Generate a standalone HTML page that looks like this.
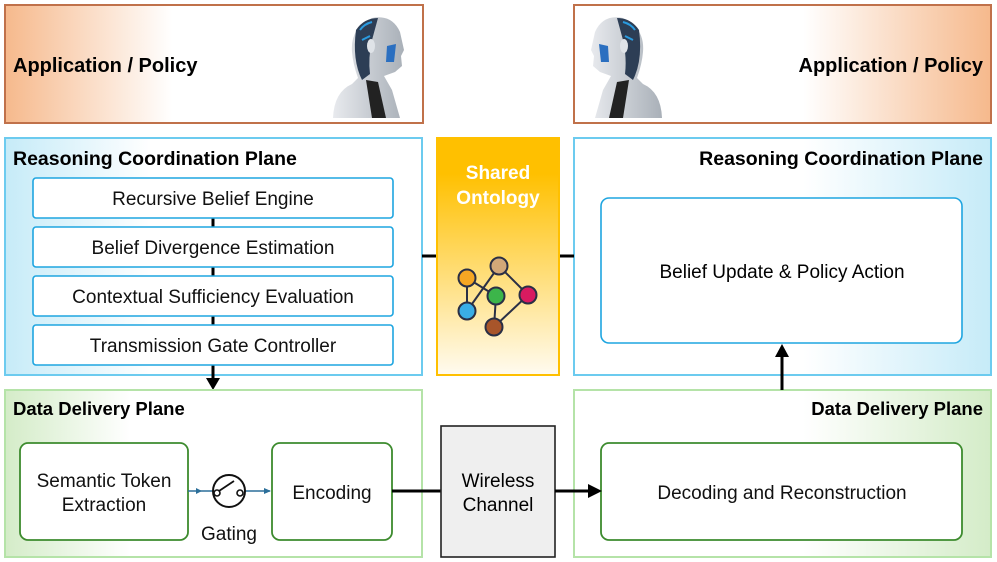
<!DOCTYPE html>
<html><head><meta charset="utf-8"><style>
html,body{margin:0;padding:0;background:#fff;}
svg{display:block;font-family:"Liberation Sans","DejaVu Sans",sans-serif;}
</style></head><body>
<svg width="997" height="562" viewBox="0 0 997 562" xmlns="http://www.w3.org/2000/svg">
<defs>
<linearGradient id="orL" x1="0" x2="1" y1="0" y2="0"><stop offset="0" stop-color="#f6b98c"/><stop offset="0.4" stop-color="#fff" /><stop offset="1" stop-color="#fff"/></linearGradient>
<linearGradient id="orR" x1="1" x2="0" y1="0" y2="0"><stop offset="0" stop-color="#f6b98c"/><stop offset="0.45" stop-color="#fff" /><stop offset="1" stop-color="#fff"/></linearGradient>
<linearGradient id="blL" x1="0" x2="1"><stop offset="0" stop-color="#c6ebf8"/><stop offset="0.35" stop-color="#fff"/><stop offset="1" stop-color="#fff"/></linearGradient>
<linearGradient id="blR" x1="1" x2="0"><stop offset="0" stop-color="#c6ebf8"/><stop offset="0.45" stop-color="#fff"/><stop offset="1" stop-color="#fff"/></linearGradient>
<linearGradient id="grL" x1="0" x2="1"><stop offset="0" stop-color="#d4ecc8"/><stop offset="0.3" stop-color="#fff"/><stop offset="1" stop-color="#fff"/></linearGradient>
<linearGradient id="grR" x1="1" x2="0"><stop offset="0" stop-color="#d4ecc8"/><stop offset="0.45" stop-color="#fff"/><stop offset="1" stop-color="#fff"/></linearGradient>
<linearGradient id="yel" x1="0" x2="0" y1="0" y2="1"><stop offset="0" stop-color="#ffc000"/><stop offset="0.15" stop-color="#ffc000"/><stop offset="1" stop-color="#fffbf0"/></linearGradient>
<linearGradient id="robo" x1="0" x2="1"><stop offset="0" stop-color="#e8eaee"/><stop offset="1" stop-color="#a9b0b8"/></linearGradient>
</defs>

<rect x="5" y="5" width="418" height="118" fill="url(#orL)" stroke="#c0714a" stroke-width="2"/>
<text x="13" y="72" font-size="20" font-weight="bold" fill="#000">Application / Policy</text>
<rect x="574" y="5" width="417" height="118" fill="url(#orR)" stroke="#c0714a" stroke-width="2"/>
<text x="983" y="72" font-size="20" font-weight="bold" text-anchor="end" fill="#000">Application / Policy</text>

<g>
<path d="M333 118 Q334 92 352 84 L358 78 Q353 64 352 52 Q350 28 372 18 Q392 14 400 32 L404 50 L401 56 L402 66 L395 72 L384 76 L392 90 L400 118 Z" fill="url(#robo)"/>
<path d="M356 30 Q364 18 378 18 L372 40 Q368 58 370 74 L362 80 Q352 60 356 30 Z" fill="#2d3e55"/>
<path d="M360 30 Q364 24 372 22 M362 40 L370 36" stroke="#2a9be0" stroke-width="2" fill="none"/>
<ellipse cx="371" cy="46" rx="4" ry="7" fill="#dfe3e8"/>
<path d="M387 46 L396 44 L394 62 L386 62 Z" fill="#2b6fc0"/>
<path d="M366 80 L372 118 L386 118 L378 82 Z" fill="#222"/>
</g>
<g>
<path d="M662 118 Q661 92 643 84 L637 78 Q642 64 643 52 Q645 28 623 18 Q603 14 595 32 L591 50 L594 56 L593 66 L600 72 L611 76 L603 90 L595 118 Z" fill="url(#robo)"/>
<path d="M639 30 Q631 18 617 18 L623 40 Q627 58 625 74 L633 80 Q643 60 639 30 Z" fill="#2d3e55"/>
<path d="M635 30 Q631 24 623 22 M633 40 L625 36" stroke="#2a9be0" stroke-width="2" fill="none"/>
<ellipse cx="624" cy="46" rx="4" ry="7" fill="#dfe3e8"/>
<path d="M608 46 L599 44 L601 62 L609 62 Z" fill="#2b6fc0"/>
<path d="M629 80 L623 118 L609 118 L617 82 Z" fill="#222"/>
</g>

<rect x="5" y="138" width="417" height="237" fill="url(#blL)" stroke="#6ccbef" stroke-width="2"/>
<text x="13" y="165" font-size="19.5" font-weight="bold">Reasoning Coordination Plane</text>
<rect x="574" y="138" width="417" height="237" fill="url(#blR)" stroke="#6ccbef" stroke-width="2"/>
<text x="983" y="165" font-size="19.5" font-weight="bold" text-anchor="end">Reasoning Coordination Plane</text>

<line x1="213" y1="218" x2="213" y2="378" stroke="#000" stroke-width="3"/>
<polygon points="206,378 220,378 213,390" fill="#000"/>

<g fill="#fff" stroke="#1ea5e0" stroke-width="1.6">
<rect x="33" y="178" width="360" height="40" rx="3"/>
<rect x="33" y="227" width="360" height="40" rx="3"/>
<rect x="33" y="276" width="360" height="40" rx="3"/>
<rect x="33" y="325" width="360" height="40" rx="3"/>
</g>
<g font-size="19" text-anchor="middle" fill="#111">
<text x="213" y="205">Recursive Belief Engine</text>
<text x="213" y="254">Belief  Divergence Estimation</text>
<text x="213" y="303">Contextual Sufficiency Evaluation</text>
<text x="213" y="352">Transmission Gate Controller</text>
</g>

<rect x="601" y="198" width="361" height="145" rx="8" fill="#fff" stroke="#1ea5e0" stroke-width="1.6"/>
<text x="782" y="278" font-size="19" text-anchor="middle">Belief Update &amp; Policy Action</text>

<line x1="422" y1="256" x2="437" y2="256" stroke="#000" stroke-width="3"/>
<line x1="559" y1="256" x2="574" y2="256" stroke="#000" stroke-width="3"/>
<rect x="437" y="138" width="122" height="237" fill="url(#yel)" stroke="#ffc000" stroke-width="2"/>
<text x="498" y="179" font-size="19" font-weight="bold" fill="#fff" text-anchor="middle">Shared</text>
<text x="498" y="204" font-size="19" font-weight="bold" fill="#fff" text-anchor="middle">Ontology</text>
<g stroke="#2a2f45" stroke-width="2">
<line x1="467" y1="278" x2="496" y2="296"/>
<line x1="467" y1="278" x2="467" y2="311"/>
<line x1="499" y1="266" x2="467" y2="311"/>
<line x1="499" y1="266" x2="528" y2="295"/>
<line x1="496" y1="296" x2="494" y2="327"/>
<line x1="528" y1="295" x2="494" y2="327"/>
<circle cx="467" cy="278" r="8.5" fill="#f5a623"/>
<circle cx="499" cy="266" r="8.5" fill="#d2a878"/>
<circle cx="496" cy="296" r="8.5" fill="#3cb54a"/>
<circle cx="528" cy="295" r="8.5" fill="#d81b60"/>
<circle cx="467" cy="311" r="8.5" fill="#3aaee6"/>
<circle cx="494" cy="327" r="8.5" fill="#a8552a"/>
</g>

<rect x="5" y="390" width="417" height="167" fill="url(#grL)" stroke="#b5e3a8" stroke-width="2"/>
<text x="13" y="415" font-size="18.5" font-weight="bold">Data Delivery Plane</text>
<rect x="574" y="390" width="417" height="167" fill="url(#grR)" stroke="#b5e3a8" stroke-width="2"/>
<text x="983" y="415" font-size="18.5" font-weight="bold" text-anchor="end">Data Delivery Plane</text>

<line x1="782" y1="390" x2="782" y2="355" stroke="#000" stroke-width="3"/>
<polygon points="775,357 789,357 782,344" fill="#000"/>

<g fill="#fff" stroke="#3d8b2e" stroke-width="1.8">
<rect x="20" y="443" width="168" height="97" rx="8"/>
<rect x="272" y="443" width="120" height="97" rx="8"/>
<rect x="601" y="443" width="361" height="97" rx="8"/>
</g>
<g font-size="19" text-anchor="middle" fill="#111">
<text x="104" y="487">Semantic Token</text>
<text x="104" y="511">Extraction</text>
<text x="332" y="499">Encoding</text>
<text x="782" y="499">Decoding and Reconstruction</text>
<text x="229" y="540">Gating</text>
</g>

<line x1="188" y1="491" x2="213" y2="491" stroke="#2c6f9a" stroke-width="1.5"/>
<line x1="245" y1="491" x2="270" y2="491" stroke="#2c6f9a" stroke-width="1.5"/>
<polygon points="196,488 202,491 196,494" fill="#2c6f9a"/>
<polygon points="264,488 271,491 264,494" fill="#2c6f9a"/>
<circle cx="229" cy="491" r="16" fill="#fff" stroke="#111" stroke-width="2"/>
<circle cx="217" cy="493" r="3" fill="#fff" stroke="#111" stroke-width="1.6"/>
<circle cx="240" cy="493" r="3" fill="#fff" stroke="#111" stroke-width="1.6"/>
<line x1="219" y1="491" x2="234" y2="481" stroke="#111" stroke-width="1.8"/>

<line x1="392" y1="491" x2="441" y2="491" stroke="#000" stroke-width="3"/>
<rect x="441" y="426" width="114" height="131" fill="#efefef" stroke="#222" stroke-width="1.6"/>
<text x="498" y="487" font-size="19" text-anchor="middle">Wireless</text>
<text x="498" y="511" font-size="19" text-anchor="middle">Channel</text>
<line x1="555" y1="491" x2="590" y2="491" stroke="#000" stroke-width="3"/>
<polygon points="588,484 602,491 588,498" fill="#000"/>
</svg>
</body></html>
